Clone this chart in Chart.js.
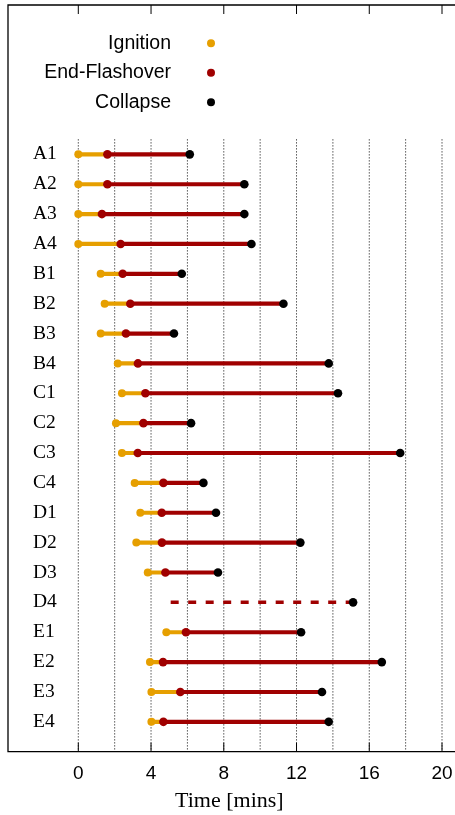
<!DOCTYPE html>
<html>
<head>
<meta charset="utf-8">
<script src="https://cdn.jsdelivr.net/npm/chart.js@4/dist/chart.umd.min.js"></script>
<style>
  html, body { margin: 0; padding: 0; background: #fff; }
  #wrap { width: 455px; height: 815px; overflow: hidden; }
</style>
</head>
<body>
<div id="wrap"><canvas id="c" width="455" height="815"></canvas></div>
<script>
// Fire test timeline per compartment (minutes from test start)
const rowLabels = ['A1','A2','A3','A4','B1','B2','B3','B4','C1','C2','C3','C4','D1','D2','D3','D4','E1','E2','E3','E4'];
const ignition     = [0, 0, 0, 0, 1.23, 1.45, 1.23, 2.17, 2.40, 2.07, 2.40, 3.10, 3.41, 3.19, 3.82, null, 4.84, 3.94, 4.02, 4.02];
const endFlashover = [1.60, 1.60, 1.30, 2.33, 2.44, 2.86, 2.62, 3.28, 3.69, 3.58, 3.27, 4.68, 4.59, 4.60, 4.79, null, 5.92, 4.66, 5.61, 4.68];
const collapse     = [6.13, 9.13, 9.13, 9.52, 5.69, 11.28, 5.26, 13.77, 14.28, 6.20, 17.70, 6.88, 7.57, 12.21, 7.68, 15.11, 12.25, 16.69, 13.40, 13.77];
// rows where the flashover time is uncertain: dashed line from this time to collapse
const uncertainFrom = [null, null, null, null, null, null, null, null, null, null, null, null, null, null, null, 5.08, null, null, null, null];
const timeTicks = [0, 4, 8, 12, 16, 20];
const gridTimes = [0, 2, 4, 6, 8, 10, 12, 14, 16, 18, 20];
const seriesNames = ['Ignition', 'End-Flashover', 'Collapse'];

const ORANGE = '#e69f00';
const RED = '#a00000';
const BLACK = '#000000';
const SANS = '"Liberation Sans", Arial, sans-serif';
const SERIF = '"Liberation Serif", "Times New Roman", serif';

const rows = rowLabels.map((_, i) => i);
const pts = arr => rows.filter(i => arr[i] != null).map(i => ({ x: arr[i], y: i }));

const growthBars = rows.filter(i => ignition[i] != null && endFlashover[i] != null)
  .map(i => ({ x: [ignition[i], endFlashover[i]], y: i }));
const burnBars = rows.filter(i => endFlashover[i] != null)
  .map(i => ({ x: [endFlashover[i], collapse[i]], y: i }));
const uncertainLines = rows.filter(i => uncertainFrom[i] != null)
  .map(i => [{ x: uncertainFrom[i], y: i }, { x: collapse[i], y: i }]);

const datasets = [
  { type: 'scatter', label: seriesNames[2], data: pts(collapse), pointRadius: 4.3, pointBackgroundColor: BLACK, pointBorderWidth: 0, order: 1 },
  { type: 'scatter', label: seriesNames[1], data: pts(endFlashover), pointRadius: 4.3, pointBackgroundColor: RED, pointBorderWidth: 0, order: 2 },
  { type: 'scatter', label: seriesNames[0], data: pts(ignition), pointRadius: 4, pointBackgroundColor: ORANGE, pointBorderWidth: 0, order: 3 },
  { type: 'bar', indexAxis: 'y', data: burnBars, backgroundColor: RED, barThickness: 3.5, grouped: false, borderWidth: 0, order: 4 },
  { type: 'bar', indexAxis: 'y', data: growthBars, backgroundColor: ORANGE, barThickness: 3.5, grouped: false, borderWidth: 0, order: 5 },
];
uncertainLines.forEach(d => datasets.push({
  type: 'scatter', showLine: true, data: d, borderColor: RED, borderWidth: 3.5,
  borderDash: [8, 9.5], borderCapStyle: 'butt', pointRadius: 0, order: 4
}));

// frame, dotted time grid, inward tick marks and the key
const framePlugin = {
  id: 'frame',
  beforeDatasetsDraw(chart) {
    const { ctx, chartArea: a, scales: { x, y } } = chart;
    const farRight = chart.width + 2;
    ctx.save();
    ctx.strokeStyle = '#000';
    ctx.lineWidth = 1;
    ctx.setLineDash([1, 2]);
    const gTop = y.getPixelForValue(-0.5);
    gridTimes.forEach(t => {
      const px = x.getPixelForValue(t);
      ctx.beginPath(); ctx.moveTo(px, gTop); ctx.lineTo(px, a.bottom); ctx.stroke();
    });
    ctx.setLineDash([]);
    timeTicks.forEach(t => {
      const px = x.getPixelForValue(t);
      ctx.beginPath(); ctx.moveTo(px, a.top); ctx.lineTo(px, a.top + 9); ctx.stroke();
      ctx.beginPath(); ctx.moveTo(px, a.bottom); ctx.lineTo(px, a.bottom - 9); ctx.stroke();
    });
    ctx.lineWidth = 1.3;
    ctx.beginPath();
    ctx.moveTo(farRight, a.top);
    ctx.lineTo(a.left, a.top);
    ctx.lineTo(a.left, a.bottom);
    ctx.lineTo(farRight, a.bottom);
    ctx.stroke();
    ctx.restore();
  },
  afterDatasetsDraw(chart) {
    const { ctx, chartArea: a, scales: { y } } = chart;
    const colors = [ORANGE, RED, BLACK];
    const keyRows = [-3.72, -2.73, -1.74];
    ctx.save();
    ctx.font = '19.5px ' + SANS;
    ctx.textAlign = 'right';
    ctx.textBaseline = 'middle';
    seriesNames.forEach((name, k) => {
      const py = y.getPixelForValue(keyRows[k]);
      ctx.fillStyle = '#000';
      ctx.fillText(name, a.left + 163, py);
      ctx.fillStyle = colors[k];
      ctx.beginPath(); ctx.arc(a.left + 203, py, 4, 0, Math.PI * 2); ctx.fill();
    });
    ctx.restore();
  }
};

new Chart(document.getElementById('c'), {
  type: 'scatter',
  data: { datasets },
  plugins: [framePlugin],
  options: {
    responsive: false,
    animation: false,
    events: [],
    layout: { padding: { left: 8, top: 5, right: 0, bottom: 0 } },
    plugins: { legend: { display: false }, tooltip: { enabled: false } },
    scales: {
      x: {
        type: 'linear', position: 'bottom', min: -3.866, max: 20.478, offset: false,
        afterBuildTicks: s => { s.ticks = timeTicks.map(v => ({ value: v })); },
        afterFit: s => { s.height = 63.3; s.paddingLeft = 0; s.paddingRight = 0; },
        grid: { display: false, drawTicks: false },
        border: { display: false },
        ticks: { color: '#000', font: { family: SANS, size: 19 }, padding: 10.5, maxRotation: 0, autoSkip: false },
        title: { display: true, text: 'Time [mins]', color: '#000', font: { family: SERIF, size: 22 }, padding: { top: 4, bottom: 1 } }
      },
      y: {
        type: 'linear', position: 'left', min: -5, max: 20, reverse: true, offset: false,
        afterBuildTicks: s => { s.ticks = rows.map(v => ({ value: v })); },
        afterFit: s => { s.width = 0; s.paddingTop = 0; s.paddingBottom = 0; },
        grid: { display: false, drawTicks: false },
        border: { display: false },
        ticks: {
          mirror: true, padding: 25, autoSkip: false, color: '#000',
          font: { family: SERIF, size: 19.5 },
          callback: v => rowLabels[v] ?? ''
        }
      }
    }
  }
});
</script>
</body>
</html>
